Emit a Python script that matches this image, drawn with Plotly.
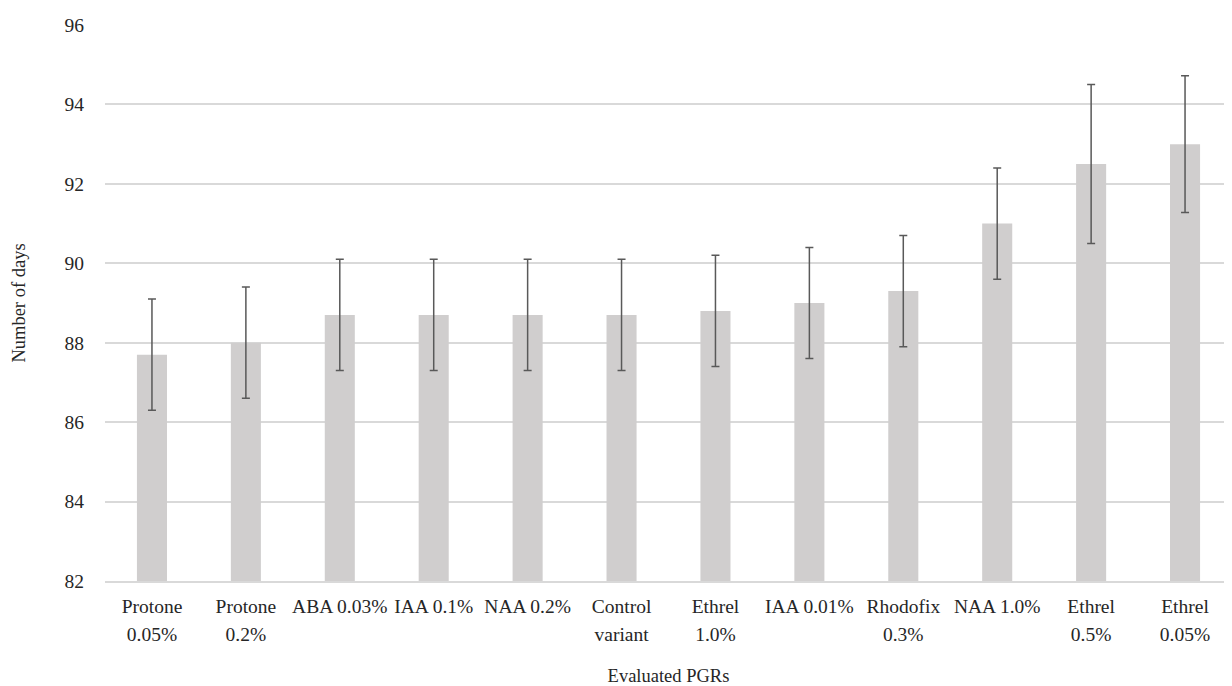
import plotly.graph_objects as go

categories = ["Protone<br>0.05%", "Protone<br>0.2%", "ABA 0.03%", "IAA 0.1%", "NAA 0.2%",
              "Control<br>variant", "Ethrel<br>1.0%", "IAA 0.01%", "Rhodofix<br>0.3%",
              "NAA 1.0%", "Ethrel<br>0.5%", "Ethrel<br>0.05%"]
days = [87.7, 88.0, 88.7, 88.7, 88.7, 88.7, 88.8, 89.0, 89.3, 91.0, 92.5, 93.0]
err = [1.4, 1.4, 1.4, 1.4, 1.4, 1.4, 1.4, 1.4, 1.4, 1.4, 2.0, 1.72]
y_ticks = [82, 84, 86, 88, 90, 92, 94, 96]

FONT = "Liberation Serif"
LABEL_PX = 19.5

# wrap each line so the visible glyphs are LABEL_PX while line spacing follows the larger tick font
ticktext = ["<br>".join(f"<span style='font-size:{LABEL_PX}px'>{part}</span>" for part in c.split("<br>"))
            for c in categories]

fig = go.Figure(go.Bar(
    x=categories, y=days,
    marker=dict(color="#d0cece", line=dict(width=0)),
    width=0.32,
    error_y=dict(type="data", array=err, visible=True, color="#595959", thickness=1.5, width=4),
))

fig.update_layout(
    width=1224, height=678,
    margin=dict(l=97, r=0, t=17, b=105),
    plot_bgcolor="white", paper_bgcolor="white",
    font=dict(family=FONT, size=19, color="#262626"),
    showlegend=False,
    xaxis=dict(
        title=dict(text="Evaluated PGRs", font=dict(size=18.5), standoff=26),
        showline=True, linecolor="#d9d9d9", linewidth=1.5,
        ticks="", tickfont=dict(size=21.5),
        tickvals=categories, ticktext=ticktext, ticklabelstandoff=4,
    ),
    yaxis=dict(
        title=dict(text="Number of days", font=dict(size=18.5), standoff=34),
        range=[82, 96], tickvals=y_ticks, showgrid=True, gridcolor="#d9d9d9", gridwidth=1.5,
        zeroline=False, showline=False, ticks="", ticklabelstandoff=20,
        tickfont=dict(size=19.5),
    ),
)

fig.write_html("out.html")
